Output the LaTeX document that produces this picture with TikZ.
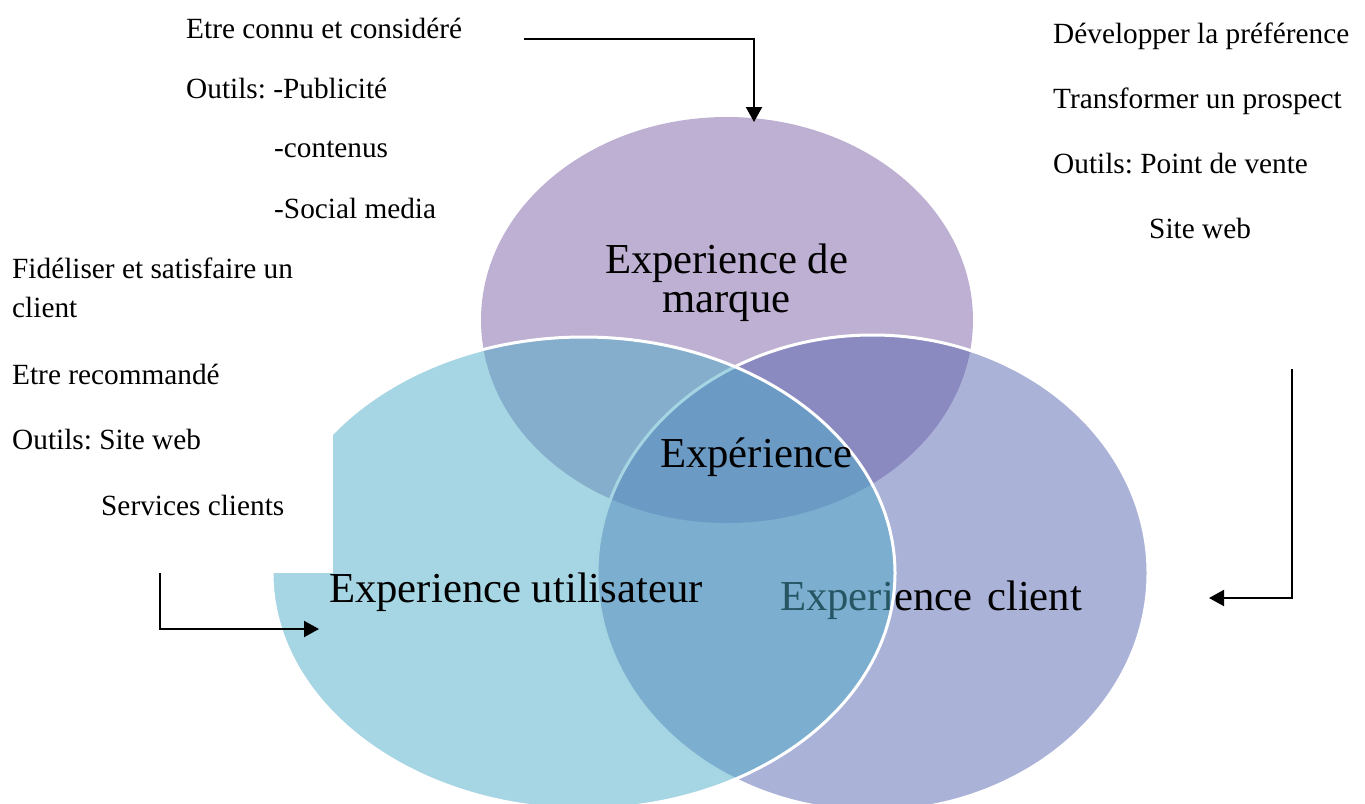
\documentclass[tikz,border=0pt]{standalone}
\usepackage{fontspec}
\setmainfont{Liberation Serif}
\usetikzlibrary{arrows.meta}
\definecolor{marqueFill}{RGB}{190,176,210}
\definecolor{clientFill}{RGB}{87,101,177}
\definecolor{userFill}{RGB}{77,171,199}
\frenchspacing
\begin{document}
\begin{tikzpicture}[x=1pt,y=-1pt,
  note/.style={anchor=base west,inner sep=0pt,font=\fontsize{29.3}{35}\selectfont},
  biglabel/.style={inner sep=0pt,font=\fontsize{42.7}{50}\selectfont},
  venn/.style={fill opacity=0.5,draw=white,draw opacity=1,line width=3pt},
  link/.style={line width=2pt,-{Triangle[length=15pt,width=16pt]}}]
\useasboundingbox (0,0) rectangle (1365,803);

% brand circle (top)
\fill[marqueFill] (727,320) ellipse [x radius=246pt, y radius=203pt];
\node[biglabel,anchor=base] (marque1) at (726.5,273) {Experience de};
\node[biglabel,anchor=base] (marque2) at (726.5,312) {marque};

% customer circle (right)
\path[venn,fill=clientFill] (872.5,573) ellipse [x radius=275.5pt, y radius=238pt];
\node[biglabel,anchor=base west] (client) at (780,610) {Experience\hspace{15pt}client};

% user circle (left)
\path[venn,fill=userFill] (583.5,573) ellipse [x radius=311.5pt, y radius=236pt];

% opaque text box on the left
\fill[white] (-2,290) rectangle (333,573);

\node[biglabel,anchor=base west] (centre) at (660,467) {Expérience};
\node[biglabel,anchor=base west] (user) at (329,602) {Experience utilisateur};

% notes, top left
\node[note] (t1) at (186,38) {Etre connu et considéré};
\node[note] (t2) at (186,98) {Outils: -Publicité};
\node[note] (t3) at (274,157) {-contenus};
\node[note] (t4) at (274,218) {-Social media};

% notes, top right
\node[note] (r1) at (1053,43) {Développer la préférence};
\node[note] (r2) at (1053,108) {Transformer un prospect};
\node[note] (r3) at (1053,173) {Outils: Point de vente};
\node[note] (r4) at (1149,238) {Site web};

% notes, left
\node[note] (l1) at (12,278) {Fidéliser et satisfaire un};
\node[note] (l2) at (12,317) {client};
\node[note] (l3) at (12,384) {Etre recommandé};
\node[note] (l4) at (12,449) {Outils: Site web};
\node[note] (l5) at (101,515) {Services clients};

% elbow arrows
\coordinate (topStart) at (524,39);
\coordinate (topTip) at (754,122);
\draw[link] (topStart) -| (topTip);

\coordinate (rightStart) at (1292,369);
\coordinate (rightTip) at (1209,598);
\draw[link] (rightStart) |- (rightTip);

\coordinate (leftStart) at (160,573);
\coordinate (leftTip) at (319,629);
\draw[link] (leftStart) |- (leftTip);
\end{tikzpicture}
\end{document}
